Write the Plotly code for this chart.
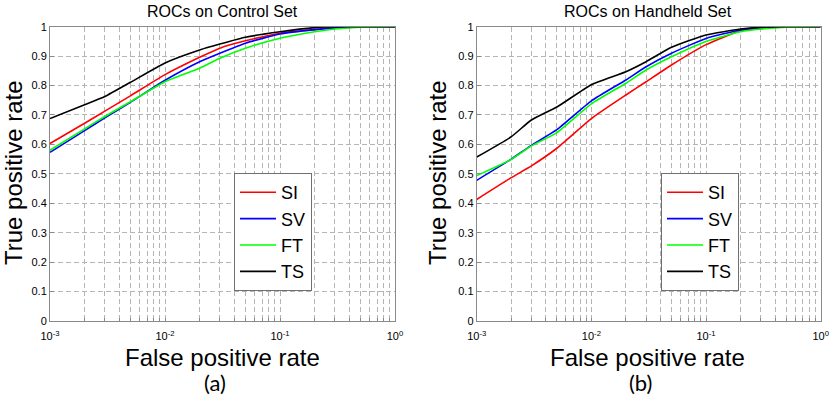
import plotly.graph_objects as go

# false positive rate sample points (log axis)
fpr = [0.001, 0.002, 0.003, 0.005, 0.01, 0.02, 0.03, 0.05, 0.1, 0.2, 0.3, 0.5, 1.0]

# (a) control set
ctrl_si = [0.603, 0.672, 0.713, 0.765, 0.837, 0.896, 0.927, 0.952, 0.978, 0.990, 0.996, 0.999, 1.0]
ctrl_sv = [0.573, 0.647, 0.690, 0.743, 0.818, 0.881, 0.910, 0.944, 0.975, 0.990, 0.996, 0.999, 1.0]
ctrl_ft = [0.580, 0.653, 0.695, 0.745, 0.813, 0.859, 0.893, 0.927, 0.961, 0.983, 0.992, 0.998, 1.0]
ctrl_ts = [0.688, 0.735, 0.763, 0.811, 0.877, 0.921, 0.941, 0.964, 0.983, 0.997, 1.0, 1.0, 1.0]

# (b) handheld set
hand_si = [0.413, 0.487, 0.527, 0.587, 0.688, 0.768, 0.813, 0.870, 0.939, 0.986, 0.994, 0.999, 1.0]
hand_sv = [0.478, 0.550, 0.597, 0.650, 0.748, 0.819, 0.864, 0.910, 0.960, 0.989, 0.997, 1.0, 1.0]
hand_ft = [0.494, 0.549, 0.595, 0.640, 0.738, 0.808, 0.853, 0.898, 0.950, 0.983, 0.992, 0.998, 1.0]
hand_ts = [0.557, 0.626, 0.683, 0.727, 0.803, 0.847, 0.881, 0.930, 0.972, 0.992, 0.998, 1.0, 1.0]

names = ["SI", "SV", "FT", "TS"]
colors = ["#ff0000", "#0000ff", "#00ff00", "#000000"]

FONT = "Liberation Sans, Arial, sans-serif"

fig = go.Figure()
for i, ys in enumerate([ctrl_si, ctrl_sv, ctrl_ft, ctrl_ts]):
    fig.add_trace(go.Scatter(x=fpr, y=ys, mode="lines", name=names[i],
                             line=dict(color=colors[i], width=1.6, shape="spline", smoothing=0.5),
                             xaxis="x", yaxis="y", legend="legend"))
for i, ys in enumerate([hand_si, hand_sv, hand_ft, hand_ts]):
    fig.add_trace(go.Scatter(x=fpr, y=ys, mode="lines", name=names[i],
                             line=dict(color=colors[i], width=1.6, shape="spline", smoothing=0.5),
                             xaxis="x2", yaxis="y2", legend="legend2"))

# log ticks incl. minor ones so that the grid shows every decade step
xt_vals, xt_text = [], []
for d in [-3, -2, -1]:
    for m in range(1, 10):
        xt_vals.append(m * 10 ** d)
        xt_text.append("10<sup>%d</sup>" % d if m == 1 else " ")
xt_vals.append(1.0)
xt_text.append("10<sup>0</sup>")

yt_vals = [i / 10 for i in range(11)]
yt_text = ["0"] + ["0.%d" % i for i in range(1, 10)] + ["1"]

grid = "#b4b4b4"
axline = "#8a8a8a"

xcommon = dict(type="log", range=[-3, 0], tickmode="array", tickvals=xt_vals, ticktext=xt_text,
               tickangle=0, showgrid=True, gridcolor=grid, griddash="5px,3px", gridwidth=1,
               automargin=False, showline=True, linecolor=axline, mirror=True, ticks="inside",
               ticklen=3, tickcolor=axline, tickfont=dict(family=FONT, size=11, color="black"),
               ticklabelstandoff=5, zeroline=False)
ycommon = dict(range=[0, 1], tickmode="array", tickvals=yt_vals, ticktext=yt_text,
               showgrid=True, gridcolor=grid, griddash="5px,3px", gridwidth=1, automargin=False,
               showline=True, linecolor=axline, mirror=True, ticks="inside", ticklen=4,
               tickcolor=axline, tickfont=dict(family=FONT, size=11, color="black"), zeroline=False)

ydom = [78 / 399, 372.3 / 399]
leg = dict(y=(399 - 173) / 399, xanchor="left", yanchor="top",
           bgcolor="white", bordercolor="#707070", borderwidth=1,
           font=dict(family=FONT, size=18, color="black"), itemwidth=36,
           tracegroupgap=0)
fig.update_layout(
    width=831, height=399,
    margin=dict(l=0, r=0, t=0, b=0, autoexpand=False),
    plot_bgcolor="white", paper_bgcolor="white",
    xaxis=dict(domain=[50 / 831, 395 / 831], anchor="y", **xcommon),
    yaxis=dict(domain=ydom, anchor="x", **ycommon),
    xaxis2=dict(domain=[476.7 / 831, 820.7 / 831], anchor="y2", **xcommon),
    yaxis2=dict(domain=ydom, anchor="x2", **ycommon),
    legend=dict(x=234 / 831, **leg),
    legend2=dict(x=661 / 831, **leg),
)

ann = [
    ("ROCs on Control Set", 222, 11, 16, FONT, 0),
    ("ROCs on Handheld Set", 647.5, 11, 16, FONT, 0),
    ("True positive rate", 14, 173, 24, FONT, -90),
    ("True positive rate", 438, 173, 24, FONT, -90),
    ("False positive rate", 222, 357, 24, FONT, 0),
    ("False positive rate", 647.5, 357, 24, FONT, 0),
    ("(a)", 215, 382, 22, "Lato, sans-serif", 0),
    ("(b)", 640, 382, 22, "Lato, sans-serif", 0),
]
for txt, px, py, sz, fam, rot in ann:
    fig.add_annotation(text=txt, x=px / 831, y=1 - py / 399, xref="paper", yref="paper",
                       xanchor="center", yanchor="middle", showarrow=False, textangle=rot,
                       font=dict(family=fam, size=sz, color="black"))

# page has a default body margin; drop it so the figure sits at (0, 0)
fig.write_html("out.html", config={"displayModeBar": False},
               post_script="document.body.style.margin='0px';")
